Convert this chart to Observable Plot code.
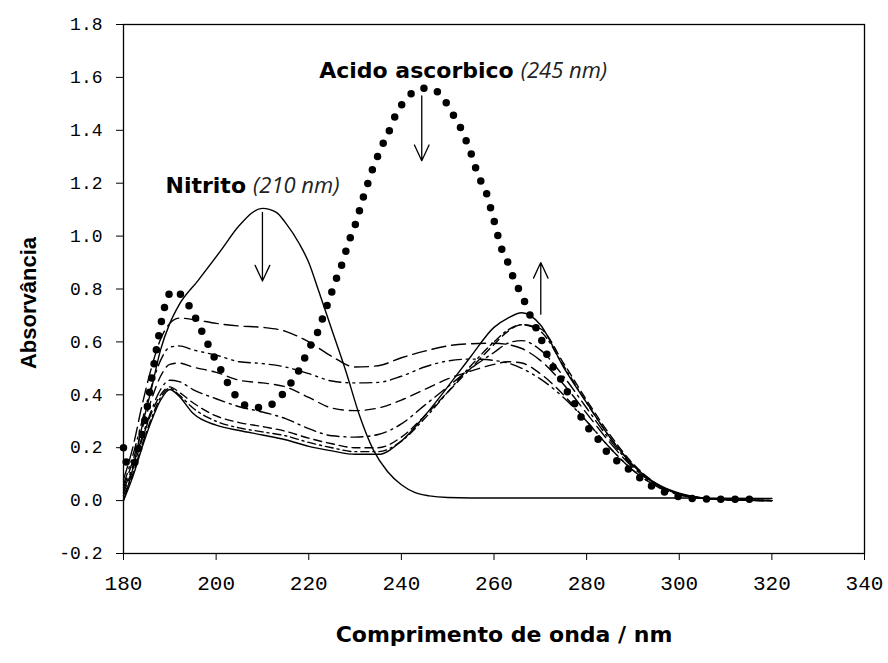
<!DOCTYPE html>
<html><head><meta charset="utf-8">
<script src="https://cdn.jsdelivr.net/npm/d3@7"></script>
<script src="https://cdn.jsdelivr.net/npm/@observablehq/plot@0.6"></script>
<style>
body{margin:0;background:#fff;}
#chart svg{display:block;background:#fff;}
</style>
</head><body><div id="chart"></div>
<script>
// Wavelength grid (nm) shared by the intermediate spectra
const grid = [180,182,184,186,188,190,192,195,200,205,210,215,220,225,230,235,240,245,250,255,260,263,266,270,275,280,285,290,295,300,305,310,320];
const mix1 = [0.08,0.2,0.36,0.5,0.61,0.67,0.69,0.685,0.67,0.66,0.655,0.64,0.6,0.545,0.505,0.51,0.54,0.565,0.585,0.593,0.595,0.59,0.575,0.53,0.44,0.33,0.22,0.125,0.06,0.025,0.01,0.004,0];
const mix2 = [0.06,0.17,0.3,0.43,0.53,0.58,0.585,0.57,0.55,0.525,0.518,0.505,0.48,0.452,0.445,0.447,0.47,0.505,0.528,0.535,0.53,0.52,0.5,0.46,0.39,0.3,0.2,0.115,0.055,0.022,0.008,0.003,0];
const mix3 = [0.05,0.15,0.27,0.38,0.47,0.515,0.52,0.505,0.485,0.455,0.445,0.43,0.39,0.35,0.34,0.35,0.38,0.42,0.46,0.49,0.515,0.525,0.52,0.48,0.4,0.3,0.2,0.115,0.055,0.022,0.008,0.003,0];
const mix4 = [0.04,0.13,0.24,0.34,0.42,0.455,0.45,0.42,0.385,0.355,0.335,0.31,0.272,0.245,0.24,0.25,0.29,0.36,0.43,0.5,0.56,0.595,0.605,0.57,0.47,0.35,0.23,0.13,0.062,0.025,0.01,0.004,0];
const mix5 = [0.03,0.12,0.23,0.33,0.4,0.43,0.41,0.37,0.32,0.295,0.28,0.262,0.236,0.215,0.2,0.2,0.24,0.32,0.41,0.5,0.59,0.64,0.665,0.65,0.52,0.38,0.25,0.14,0.065,0.026,0.01,0.004,0];
const mix6 = [0.02,0.1,0.21,0.31,0.39,0.425,0.4,0.35,0.3,0.275,0.26,0.245,0.22,0.2,0.185,0.185,0.225,0.31,0.41,0.51,0.6,0.645,0.665,0.64,0.51,0.37,0.24,0.135,0.062,0.025,0.01,0.004,0];
const mix7 = [0.0,0.09,0.2,0.3,0.38,0.42,0.395,0.33,0.285,0.265,0.248,0.23,0.205,0.188,0.175,0.175,0.225,0.32,0.43,0.545,0.655,0.69,0.71,0.665,0.505,0.37,0.24,0.135,0.065,0.028,0.01,0.004,0];
const mixDash = ["14,6","12,5,2,5,2,5","10,6","12,5,2,5","8,5","8,4,2,4",null];

// Nitrite spectrum
const nitritoNm  = [180,182,184,186,188,190,192,196,201,205,210,213,215,218,220,222,225,228,231,234,237,240,243,246,250,260,300,320];
const nitritoAbs = [0.0,0.12,0.28,0.42,0.57,0.67,0.74,0.83,0.945,1.04,1.105,1.09,1.05,0.97,0.9,0.8,0.645,0.49,0.32,0.19,0.11,0.06,0.03,0.018,0.012,0.01,0.01,0.008];

// Ascorbic acid spectrum (dotted)
const ascNm  = [180,181,182,183,184,185,186,187,188,189,190,191,192,193.5,195,196.5,198,199.5,201,202.5,204.5,207,210,213.5,215.5,217.5,219,220.5,222,223,224.2,225.2,226.2,227.5,228.3,229.4,230.5,231.3,232.5,233.3,234.4,235.5,237.2,238.3,240.2,242.6,245.5,248.5,250.6,252.5,254,255,256,257.1,258.6,259.5,260.3,261,262,263.4,264.4,266,267.2,268.6,270,271.1,272.6,274.4,275.9,277.7,279.4,281.9,284.1,286.9,289.5,291.7,293.8,296,298.8,301.7,305,310,317.5];
const ascAbs = [0.2,0.13,0.13,0.18,0.25,0.34,0.45,0.56,0.66,0.74,0.785,0.795,0.785,0.755,0.71,0.655,0.6,0.545,0.495,0.445,0.39,0.355,0.352,0.385,0.43,0.48,0.535,0.59,0.64,0.69,0.75,0.8,0.85,0.91,0.96,1.014,1.066,1.12,1.185,1.23,1.28,1.33,1.39,1.44,1.5,1.544,1.56,1.535,1.475,1.42,1.36,1.315,1.26,1.21,1.15,1.09,1.04,0.99,0.934,0.885,0.83,0.78,0.725,0.67,0.62,0.567,0.51,0.46,0.41,0.357,0.296,0.246,0.19,0.145,0.113,0.083,0.057,0.038,0.02,0.01,0.006,0.005,0.005];

// Arrows (wavelength, absorbance)
const arrowX  = [210, 244.4, 270.1];
const arrowY1 = [1.09, 1.53, 0.705];
const arrowY2 = [0.83, 1.285, 0.90];

// Annotations
const labelBold   = ["Nitrito", "Acido ascorbico"];
const labelItalic = ["(210 nm)", "(245 nm)"];
const labelX = [207.1, 264.9];
const labelY = [1.19, 1.626];

const xTicks = [180,200,220,240,260,280,300,320,340];
const yTicks = [-0.2,0,0.2,0.4,0.6,0.8,1.0,1.2,1.4,1.6,1.8];

const toRows = (xs, ys) => xs.map((x, i) => ({x, y: ys[i]}));
const mixes = [mix1, mix2, mix3, mix4, mix5, mix6, mix7];
const arrows = arrowX.map((x, i) => ({x, y1: arrowY1[i], y2: arrowY2[i]}));
const labels = labelBold.map((t, i) => ({x: labelX[i], y: labelY[i], b: t, it: labelItalic[i]}));

const marks = [
  Plot.frame({stroke: "#000", strokeWidth: 1.3}),
  Plot.axisY({ticks: yTicks, tickFormat: d => d.toFixed(1), tickSize: 7, tickPadding: 14,
    fontSize: 18, fontFamily: "Liberation Mono", label: null, stroke: "#000"}),
  Plot.axisX({ticks: xTicks, tickSize: 7, tickPadding: 15, fontSize: 21,
    fontFamily: "Liberation Mono", label: null, stroke: "#000"}),
  Plot.line(toRows(nitritoNm, nitritoAbs), {x: "x", y: "y", curve: "monotone-x", stroke: "#000", strokeWidth: 1.4}),
  ...mixes.map((m, i) => Plot.line(toRows(grid, m), {x: "x", y: "y", curve: "monotone-x",
    stroke: "#000", strokeWidth: 1.4, strokeDasharray: mixDash[i] || undefined})),
  Plot.line(toRows(ascNm, ascAbs), {x: "x", y: "y", curve: "monotone-x", stroke: "#000",
    strokeWidth: 7.5, strokeLinecap: "round", strokeDasharray: "0,14.3"}),
  Plot.arrow(arrows, {x: "x", y1: "y1", y2: "y2", stroke: "#000", strokeWidth: 1.3,
    headLength: 20, headAngle: 50}),
  Plot.text(labels, {x: "x", y: "y", text: "b", textAnchor: "end", dx: -3,
    fontFamily: "DejaVu Sans", fontWeight: "bold", fontSize: 22, fill: "#000"}),
  Plot.text(labels, {x: "x", y: "y", text: "it", textAnchor: "start", dx: 4,
    fontFamily: "Open Sans", fontStyle: "italic", fontWeight: 400, fontSize: 22, fill: "#222"}),
  Plot.text(["Absorvância"], {text: d => d, frameAnchor: "left", textAnchor: "middle", rotate: -90,
    dx: -95, dy: 14, fontFamily: "Liberation Sans", fontWeight: "bold", fontSize: 22, fill: "#000"}),
  Plot.text(["Comprimento de onda / nm"], {text: d => d, frameAnchor: "bottom", dy: 88, dx: 10,
    fontFamily: "DejaVu Sans", fontWeight: "bold", fontSize: 22, fill: "#000"})
];

const chart = Plot.plot({
  width: 888, height: 663,
  marginLeft: 123, marginRight: 24, marginTop: 24, marginBottom: 110,
  x: {domain: [180, 340]},
  y: {domain: [-0.2, 1.8]},
  style: {background: "#fff", color: "#000", overflow: "visible"},
  marks
});
document.getElementById("chart").appendChild(chart);
</script>
</body></html>
